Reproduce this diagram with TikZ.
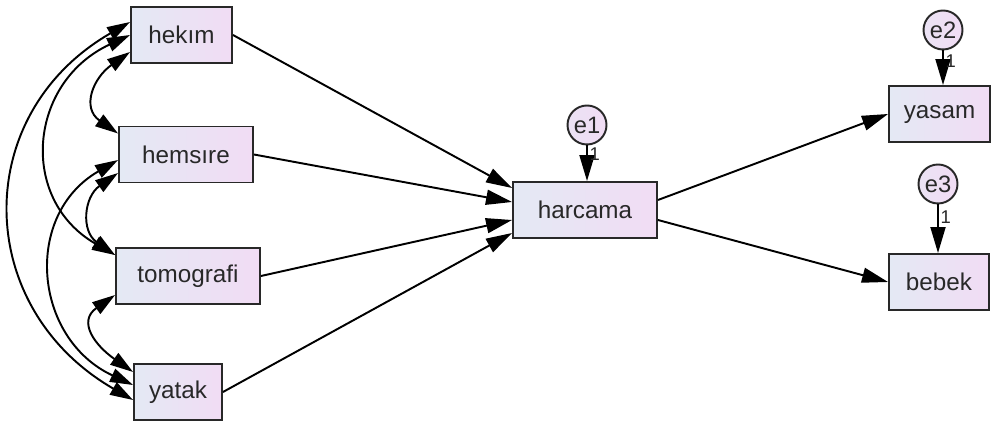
\documentclass[tikz,border=0pt]{standalone}
\usepackage{fontspec}
\setmainfont{Liberation Sans}
\usetikzlibrary{arrows.meta}
\definecolor{boxl}{RGB}{228,233,244}
\definecolor{boxr}{RGB}{241,220,244}
\definecolor{txt}{RGB}{40,40,40}

\begin{document}
\begin{tikzpicture}[
ov/.style = {% observed variables
    draw=txt, line width=1.1pt, left color=boxl, right color=boxr,
    font=\fontsize{13.8}{16}\selectfont, text=txt,
    minimum height=1.12cm, inner sep=0pt,
            },
er/.style = {% error terms
    circle, draw=txt, line width=1.1pt, left color=boxl!50!boxr, right color=boxr,
    minimum size=0.78cm, inner sep=0pt,
    font=\fontsize{13.5}{15}\selectfont, text=txt,
            },
pa/.style = {-{Triangle[length=0.52cm,width=0.3cm]}, line width=1.1pt},
cv/.style = {{Triangle[length=0.46cm,width=0.28cm]}-{Triangle[length=0.46cm,width=0.28cm]},
             line width=1.1pt},
one/.style = {right, inner sep=1pt, font=\fontsize{10.5}{12}\selectfont, text=txt},
                        ]
\useasboundingbox (0,0) rectangle (19.84,8.52);
% exogenous variables
\node[ov, minimum width=2.02cm] (hekim)     at (3.63,7.82) {hekım};
\node[ov, minimum width=2.68cm] (hemsire)   at (3.72,5.43) {hemsıre};
\node[ov, minimum width=2.88cm] (tomografi) at (3.76,3.00) {tomografi};
\node[ov, minimum width=1.76cm] (yatak)     at (3.56,0.68) {yatak};
% mediator and outcomes
\node[ov, minimum width=2.88cm] (harcama) at (11.70,4.32) {harcama};
\node[ov, minimum width=2.02cm] (yasam)   at (18.79,6.24) {yasam};
\node[ov, minimum width=2.00cm] (bebek)   at (18.78,2.88) {bebek};
% error terms
\node[er] (e1) at (11.74,6.02) {e1};
\node[er] (e2) at (18.86,7.92) {e2};
\node[er] (e3) at (18.76,4.84) {e3};
% paths
\draw[pa] (hekim.east)     -- ([yshift=0.44cm]harcama.west);
\draw[pa] (hemsire.east)   -- ([yshift=0.16cm]harcama.west);
\draw[pa] (tomografi.east) -- ([yshift=-0.20cm]harcama.west);
\draw[pa] (yatak.east)     -- ([yshift=-0.46cm]harcama.west);
\draw[pa] ([yshift=0.2cm]harcama.east)  -- (yasam.west);
\draw[pa] ([yshift=-0.2cm]harcama.east) -- (bebek.west);
% error paths
\draw[pa] (e1.south) -- (e1.south |- harcama.north) node[one,pos=0.25] {1};
\draw[pa] (e2.south) -- (e2.south |- yasam.north)   node[one,pos=0.3] {1};
\draw[pa] (e3.south) -- (e3.south |- bebek.north)   node[one,pos=0.27] {1};
% covariances
\draw[cv] ([yshift=-0.34cm]hekim.west) to[out=215,in=145,looseness=1.4]
          ([yshift=0.42cm]hemsire.west);
\draw[cv] ([yshift=-0.37cm]hemsire.west) to[out=215,in=145,looseness=1.3]
          ([yshift=0.42cm]tomografi.west);
\draw[cv] ([yshift=-0.38cm]tomografi.west) to[out=215,in=145,looseness=1.5]
          ([yshift=0.40cm]yatak.west);
\draw[cv] (hekim.west) to[out=205,in=150,looseness=1.3]
          ([yshift=0.42cm]tomografi.west);
\draw[cv] ([yshift=-0.11cm]hemsire.west) to[out=210,in=155,looseness=1.25]
          ([yshift=0.14cm]yatak.west);
\draw[cv] ([yshift=0.26cm]hekim.west) to[out=210,in=150,looseness=1.25]
          ([yshift=-0.16cm]yatak.west);
\end{tikzpicture}
\end{document}
